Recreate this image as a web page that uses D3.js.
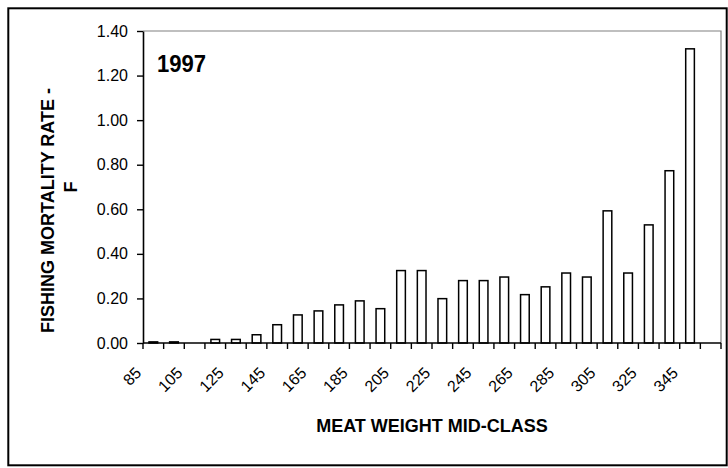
<!DOCTYPE html>
<html>
<head>
<meta charset="utf-8">
<script src="https://cdn.jsdelivr.net/npm/d3@7"></script>
<style>
  html, body { margin: 0; padding: 0; background: #fff; }
  svg { display: block; }
  text { font-family: "Liberation Sans", Arial, sans-serif; fill: #000; }
</style>
</head>
<body>
<svg id="chart" width="728" height="468"></svg>
<script>
// ---- data ----
const categories = [85, 95, 105, 115, 125, 135, 145, 155, 165, 175, 185, 195, 205, 215,
                    225, 235, 245, 255, 265, 275, 285, 295, 305, 315, 325, 335, 345, 355];
const fValues = [0.005, 0.005, 0, 0.016, 0.016, 0.037, 0.082, 0.126, 0.144, 0.171, 0.189, 0.154, 0.325, 0.325,
                 0.199, 0.28, 0.28, 0.296, 0.217, 0.252, 0.314, 0.296, 0.593, 0.314, 0.53, 0.773, 1.32, 0];
const xTickLabels = [85, 105, 125, 145, 165, 185, 205, 225, 245, 265, 285, 305, 325, 345];
const yTicks = [0, 0.2, 0.4, 0.6, 0.8, 1.0, 1.2, 1.4];
const yearLabel = "1997";
const yTitleLines = ["FISHING MORTALITY RATE -", "F"];
const xTitle = "MEAT WEIGHT MID-CLASS";

// ---- layout ----
const plot = { left: 143, right: 721, top: 31, bottom: 343 };
const svg = d3.select("#chart");

// outer chart frame
svg.append("rect")
  .attr("x", 8.3).attr("y", 8.3)
  .attr("width", 718.4).attr("height", 457)
  .attr("fill", "none").attr("stroke", "#000").attr("stroke-width", 2);

const x = d3.scaleBand().domain(categories).range([plot.left, plot.right]).padding(0);
const y = d3.scaleLinear().domain([0, 1.4]).range([plot.bottom, plot.top]);

// plot area border (top & right, gray)
svg.append("path")
  .attr("d", `M${plot.left},${plot.top}H${plot.right}V${plot.bottom}`)
  .attr("fill", "none").attr("stroke", "#808080").attr("stroke-width", 1.2);

// bars
const bw = x.bandwidth() * 0.42;
svg.append("g").selectAll("rect")
  .data(categories.map((c, i) => ({ c, v: fValues[i] })).filter(d => d.v > 0))
  .join("rect")
  .attr("x", d => x(d.c) + (x.bandwidth() - bw) / 2)
  .attr("y", d => y(d.v))
  .attr("width", bw)
  .attr("height", d => Math.max(0.6, y(0) - y(d.v)))
  .attr("fill", "#fff")
  .attr("stroke", "#000")
  .attr("stroke-width", 1.5);

// y axis
const yAxis = svg.append("g")
  .attr("transform", `translate(${plot.left},0)`)
  .call(d3.axisLeft(y).tickValues(yTicks).tickFormat(d3.format(".2f")).tickSize(6).tickPadding(9).tickSizeOuter(0));
yAxis.select(".domain").attr("stroke", "#000").attr("stroke-width", 1.6);
yAxis.selectAll(".tick line").attr("stroke", "#000").attr("stroke-width", 1.4);
yAxis.selectAll(".tick text").attr("font-size", 16).attr("font-family", "Liberation Sans, Arial, sans-serif");

// x axis line and ticks at band boundaries
const xg = svg.append("g");
xg.append("line")
  .attr("x1", plot.left).attr("x2", plot.right)
  .attr("y1", y(0)).attr("y2", y(0))
  .attr("stroke", "#000").attr("stroke-width", 1.6);
const boundaries = categories.map(c => x(c)).concat([x(categories[categories.length - 1]) + x.bandwidth()]);
xg.selectAll("line.tk").data(boundaries).join("line")
  .attr("class", "tk")
  .attr("x1", d => d).attr("x2", d => d)
  .attr("y1", y(0)).attr("y2", y(0) + 6)
  .attr("stroke", "#000").attr("stroke-width", 1.4);

// x tick labels (rotated -45)
xg.selectAll("text.xl").data(xTickLabels).join("text")
  .attr("class", "xl")
  .attr("transform", d => `translate(${x(d) + x.bandwidth() / 2 - 11},${y(0) + 31}) rotate(-45)`)
  .attr("text-anchor", "end")
  .attr("font-size", 16)
  .text(d => d);

// year label
svg.append("text")
  .attr("transform", "translate(157,71.5) scale(0.92,1)")
  .attr("font-size", 24).attr("font-weight", "bold")
  .text(yearLabel);

// y title
svg.append("text")
  .attr("transform", "translate(54,210.5) rotate(-90)")
  .attr("text-anchor", "middle").attr("font-size", 18).attr("font-weight", "bold")
  .text(yTitleLines[0]);
svg.append("text")
  .attr("transform", "translate(77,187) rotate(-90)")
  .attr("text-anchor", "middle").attr("font-size", 18).attr("font-weight", "bold")
  .text(yTitleLines[1]);

// x title
svg.append("text")
  .attr("x", (plot.left + plot.right) / 2).attr("y", 432)
  .attr("text-anchor", "middle").attr("font-size", 18).attr("font-weight", "bold")
  .text(xTitle);
</script>
</body>
</html>
